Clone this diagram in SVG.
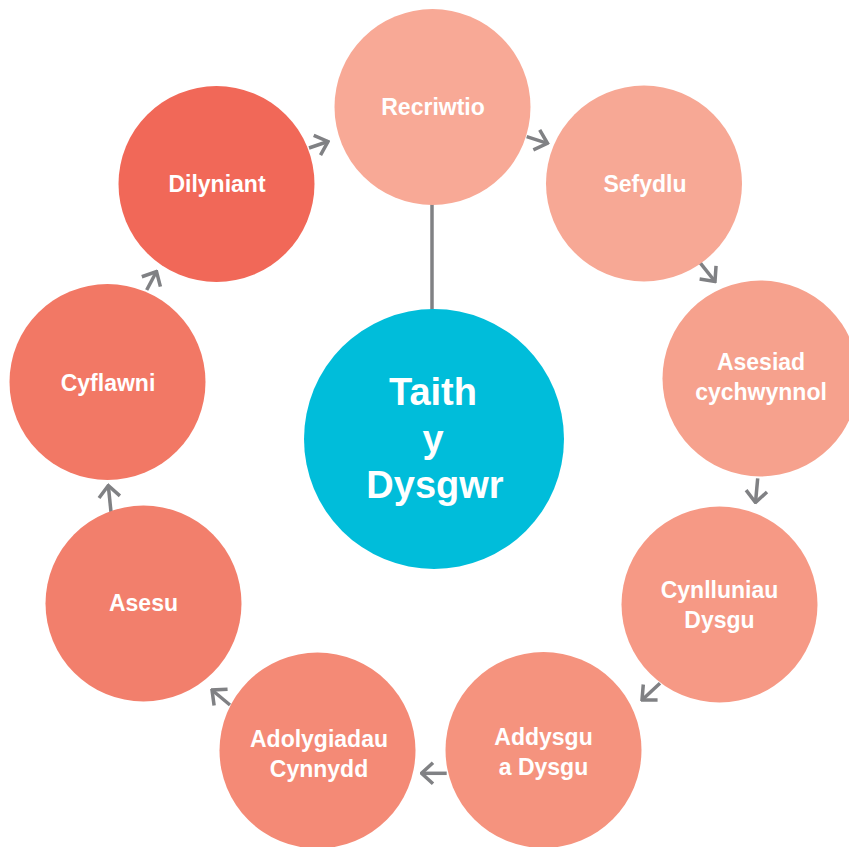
<svg xmlns="http://www.w3.org/2000/svg" width="849" height="847" viewBox="0 0 849 847">
<style>
.lbl{font-family:"Liberation Sans",Arial,sans-serif;font-weight:bold;font-size:23px;fill:#ffffff;text-anchor:middle}
.big{font-family:"Liberation Sans",Arial,sans-serif;font-weight:bold;font-size:38px;fill:#ffffff;text-anchor:middle}
.con{stroke:#808184;stroke-width:3.5;fill:none}
</style>
<defs>
<marker id="chev" markerUnits="userSpaceOnUse" viewBox="-14 -13 16 26" refX="0" refY="0" markerWidth="16" markerHeight="26" orient="auto">
<path d="M -11.5 -10.5 L 0 0 L -11.5 10.5" fill="none" stroke="#808184" stroke-width="3.5"/>
</marker>
</defs>
<rect width="849" height="847" fill="#ffffff"/>
<g id="connectors">
<line class="con" x1="432" y1="204" x2="432" y2="312"/>
<line class="con" x1="309" y1="148" x2="328" y2="141.5" marker-end="url(#chev)"/>
<line class="con" x1="526.7" y1="136.7" x2="547.5" y2="143.3" marker-end="url(#chev)"/>
<line class="con" x1="700" y1="262.7" x2="715" y2="281.5" marker-end="url(#chev)"/>
<line class="con" x1="757.7" y1="478.3" x2="755.5" y2="502.5" marker-end="url(#chev)"/>
<line class="con" x1="660" y1="683.3" x2="642" y2="700" marker-end="url(#chev)"/>
<line class="con" x1="446.7" y1="773.3" x2="421.5" y2="773.3" marker-end="url(#chev)"/>
<line class="con" x1="230" y1="705" x2="212" y2="690" marker-end="url(#chev)"/>
<line class="con" x1="111" y1="512" x2="108.3" y2="485.5" marker-end="url(#chev)"/>
<line class="con" x1="146.7" y1="290" x2="156.5" y2="271.5" marker-end="url(#chev)"/>
</g>
<g id="node-center">
<circle cx="434" cy="439" r="130" fill="#00BDDA"/>
<text class="big" x="433" y="405">Taith</text>
<text class="big" x="433" y="452">y</text>
<text class="big" x="435" y="498">Dysgwr</text>
</g>
<g id="node-recriwtio">
<circle cx="432.5" cy="107" r="98" fill="#F8A996"/>
<text class="lbl" x="433" y="115">Recriwtio</text>
</g>
<g id="node-sefydlu">
<circle cx="644" cy="183.5" r="98" fill="#F7A895"/>
<text class="lbl" x="645" y="192">Sefydlu</text>
</g>
<g id="node-asesiad">
<circle cx="760.5" cy="378.5" r="98" fill="#F6A18D"/>
<text class="lbl" x="761" y="370">Asesiad</text>
<text class="lbl" x="761" y="400">cychwynnol</text>
</g>
<g id="node-cynlluniau">
<circle cx="719.5" cy="604.5" r="98" fill="#F69985"/>
<text class="lbl" x="719.5" y="598">Cynlluniau</text>
<text class="lbl" x="719.5" y="628">Dysgu</text>
</g>
<g id="node-addysgu">
<circle cx="543.5" cy="750" r="98" fill="#F5937E"/>
<text class="lbl" x="543.5" y="745">Addysgu</text>
<text class="lbl" x="543.5" y="775">a Dysgu</text>
</g>
<g id="node-adolygiadau">
<circle cx="317.5" cy="750.5" r="98" fill="#F48A76"/>
<text class="lbl" x="319" y="747">Adolygiadau</text>
<text class="lbl" x="319" y="777">Cynnydd</text>
</g>
<g id="node-asesu">
<circle cx="143.5" cy="603.5" r="98" fill="#F27F6C"/>
<text class="lbl" x="143.5" y="611">Asesu</text>
</g>
<g id="node-cyflawni">
<circle cx="107.5" cy="382" r="98" fill="#F27865"/>
<text class="lbl" x="108" y="391">Cyflawni</text>
</g>
<g id="node-dilyniant">
<circle cx="216.5" cy="184" r="98" fill="#F16858"/>
<text class="lbl" x="217" y="192">Dilyniant</text>
</g>
</svg>
